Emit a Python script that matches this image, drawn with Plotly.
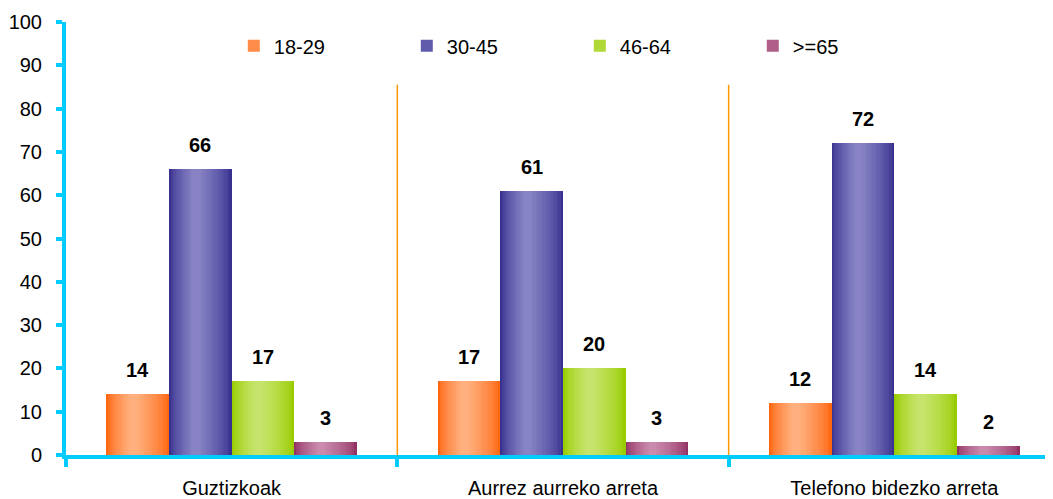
import numpy as np
import plotly.graph_objects as go

categories = ["Guztizkoak", "Aurrez aurreko arreta", "Telefono bidezko arreta"]
series = ["18-29", "30-45", "46-64", ">=65"]
values = {
    "18-29": [14, 17, 12],
    "30-45": [66, 61, 72],
    "46-64": [17, 20, 14],
    ">=65": [3, 3, 2],
}

# edge colour, centre colour (bars have a horizontal shine)
colors = {
    "18-29": ("#FF6610", "#FFB07E"),
    "30-45": ("#38318F", "#8783C4"),
    "46-64": ("#99CC00", "#C6E46C"),
    ">=65": ("#933264", "#C98AAB"),
}

def mix(c1, c2, t):
    a = np.array([int(c1[i:i + 2], 16) for i in (1, 3, 5)])
    b = np.array([int(c2[i:i + 2], 16) for i in (1, 3, 5)])
    r = (a + (b - a) * t).round().astype(int)
    return "rgb(%d,%d,%d)" % tuple(r)

cyan = "#00CCFF"
font = "Liberation Sans, Arial, sans-serif"
group_w = 0.756
w = group_w / len(series)
n_layers = 14
layers = np.linspace(1.0, 0.12, n_layers)

fig = go.Figure()
for i, s in enumerate(series):
    start = -group_w / 2 + i * w
    for k, f in enumerate(layers):
        lw = w * f
        t = (k / (n_layers - 1)) ** 0.7
        fig.add_trace(go.Bar(
            x=categories, y=values[s], name=s,
            width=lw, offset=start + (w - lw) * 0.42,
            marker=dict(color=mix(colors[s][0], colors[s][1], t), line_width=0),
            legendgroup=s, showlegend=(k == 5),
            hoverinfo="skip" if k else None,
        ))
    for c, v in enumerate(values[s]):
        fig.add_annotation(x=c + start + w / 2, y=v, text="<b>%d</b>" % v,
                           showarrow=False, yanchor="bottom", yshift=11,
                           font=dict(size=20, color="black", family=font))

for xb in [0.5, 1.5]:
    fig.add_shape(type="line", x0=xb, x1=xb, y0=0, y1=85.5, xref="x", yref="y",
                  line=dict(color="#FF9900", width=1.5))

# page body adds an 8px margin, so the figure is 8px smaller than the window
fig.update_layout(
    width=1045, height=491,
    margin=dict(l=58, r=0, t=14, b=44),
    plot_bgcolor="white", paper_bgcolor="white",
    barmode="overlay", bargap=0,
    font=dict(family=font, size=20, color="black"),
    showlegend=True,
    legend=dict(orientation="h", x=0.17, y=0.945, xanchor="left", yanchor="middle",
                entrywidth=128, itemwidth=30, font=dict(size=20),
                traceorder="grouped", bgcolor="rgba(0,0,0,0)"),
)
fig.update_xaxes(type="category", range=[-0.5, 2.479], showline=True, linecolor=cyan, linewidth=4,
                 ticks="outside", tickson="boundaries", ticklen=8, tickwidth=4, tickcolor=cyan,
                 showgrid=False, tickfont=dict(size=20), automargin=False, ticklabelstandoff=12)
fig.update_yaxes(range=[0, 100], dtick=10, showline=True, linecolor=cyan, linewidth=4,
                 ticks="outside", ticklen=6, tickwidth=4, tickcolor=cyan,
                 showgrid=False, zeroline=False, tickfont=dict(size=20), automargin=False,
                 ticklabelstandoff=10)

fig.write_html("out.html")
